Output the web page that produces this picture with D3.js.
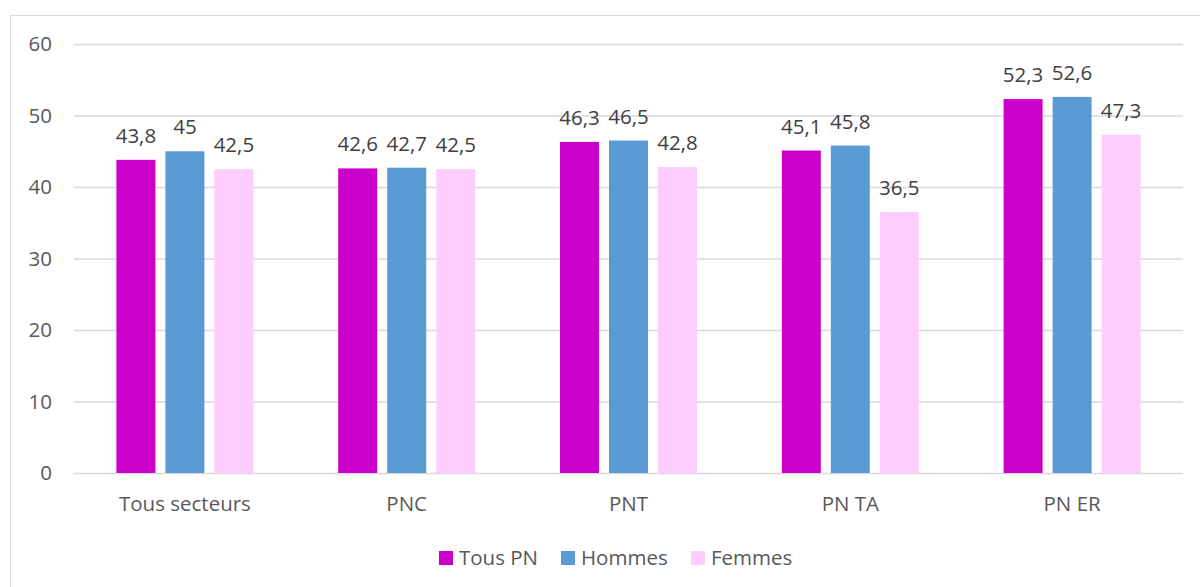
<!DOCTYPE html>
<html><head><meta charset="utf-8">
<script src="https://cdn.jsdelivr.net/npm/d3@7"></script>
<style>body{margin:0;background:#fff}svg{display:block;font-family:"Open Sans",sans-serif}</style>
</head><body><svg id="c" width="1200" height="587"></svg>
<script>
const categories = ["Tous secteurs","PNC","PNT","PN TA","PN ER"];
const seriesNames = ["Tous PN","Hommes","Femmes"];
const tousPN = [43.8,42.6,46.3,45.1,52.3];
const hommes = [45,42.7,46.5,45.8,52.6];
const femmes = [42.5,42.5,42.8,36.5,47.3];
const yTicks = [0,10,20,30,40,50,60];
const colors = ["#CC00CC","#5B9BD5","#FFCCFF"];
const seriesValues = [tousPN,hommes,femmes];

const FS=20.5;
const svg = d3.select("#c");
svg.append("rect").attr("x",10.5).attr("y",15.5).attr("width",1200).attr("height",600)
  .attr("fill","#fff").attr("stroke","#d9d9d9").attr("stroke-width",1);

const pLeft=74,pRight=1183,pTop=44,pBottom=473;
const x0=d3.scaleBand().domain(categories).range([pLeft,pRight]).padding(0);
const groupW=137;
const x1=d3.scaleBand().domain(seriesNames).range([0,groupW]).paddingInner(10/49).paddingOuter(0);
const y=d3.scaleLinear().domain([0,60]).range([pBottom,pTop]);

const yAxis=d3.axisLeft(y).tickValues(yTicks).tickSize(-(pRight-pLeft)).tickPadding(22).tickFormat(d3.format("d"));
const gy=svg.append("g").attr("transform",`translate(${pLeft},0)`).call(yAxis);
gy.select(".domain").remove();
gy.selectAll(".tick line").attr("stroke","#d9d9d9").attr("stroke-width",1.3);
gy.selectAll(".tick text").attr("fill","#595959").attr("font-size",FS).attr("font-family","Open Sans");

const fmt=v=>String(v).replace(".",",");
const groups=svg.append("g").selectAll("g").data(categories).join("g")
  .attr("transform",d=>`translate(${x0(d)+(x0.bandwidth()-groupW)/2},0)`);
seriesNames.forEach((s,si)=>{
  groups.append("rect")
    .attr("x",x1(s)).attr("width",x1.bandwidth())
    .attr("y",(d,i)=>y(seriesValues[si][i]))
    .attr("height",(d,i)=>y(0)-y(seriesValues[si][i]))
    .attr("fill",colors[si]);
  groups.append("text")
    .attr("x",x1(s)+x1.bandwidth()/2)
    .attr("y",(d,i)=>y(seriesValues[si][i])-17)
    .attr("text-anchor","middle").attr("font-size",FS).attr("fill","#404040")
    .text((d,i)=>fmt(seriesValues[si][i]));
});

const xAxis=d3.axisBottom(x0).tickSize(0).tickPadding(23);
const gx=svg.append("g").attr("transform",`translate(0,${pBottom})`).call(xAxis);
gx.select(".domain").remove();
gx.selectAll(".tick text").attr("fill","#595959").attr("font-size",FS).attr("font-family","Open Sans");

const legX=[439,561,691];
const leg=svg.append("g");
seriesNames.forEach((s,i)=>{
  leg.append("rect").attr("x",legX[i]).attr("y",551).attr("width",14).attr("height",14).attr("fill",colors[i]);
  leg.append("text").attr("x",legX[i]+20).attr("y",565).attr("font-size",FS).attr("fill","#595959").text(s);
});
</script></body></html>
